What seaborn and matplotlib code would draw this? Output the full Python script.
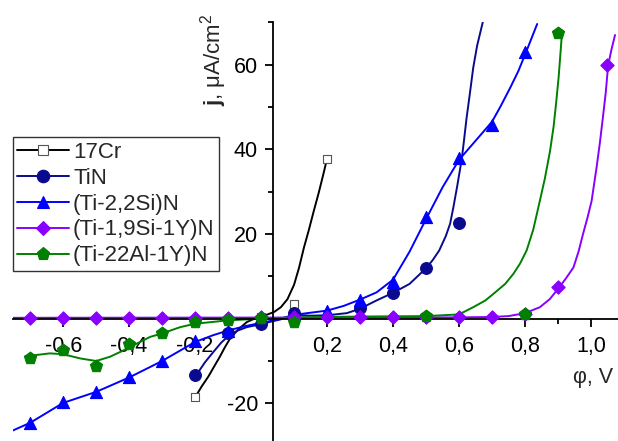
import matplotlib
matplotlib.use("Agg")
import matplotlib.pyplot as plt
from matplotlib.lines import Line2D
from matplotlib.ticker import FixedLocator, FixedFormatter
import seaborn as sns

# ---- measured points -------------------------------------------------------
cr_x = [-0.2, 0.0, 0.1, 0.2]
cr_y = [-18.6, 0.4, 3.4, 37.8]

tin_x = [-0.2, -0.1, 0.0, 0.1, 0.3, 0.4, 0.5, 0.6]
tin_y = [-13.3, -3.5, -1.3, 1.3, 2.4, 6.1, 11.9, 22.6]

si_x = [-0.7, -0.6, -0.5, -0.4, -0.3, -0.2, -0.1, 0.2, 0.3, 0.4, 0.5, 0.6, 0.7, 0.8]
si_y = [-24.6, -19.6, -17.3, -13.9, -10.0, -5.3, -3.0, 1.9, 4.5, 8.6, 23.9, 38.0, 45.7, 62.9]

siy_x = [-0.7, -0.6, -0.5, -0.4, -0.3, -0.2, -0.1, 0.0, 0.1, 0.2, 0.3, 0.4, 0.5, 0.6, 0.7, 0.8, 0.9, 1.05]
siy_y = [0.2, 0.2, 0.2, 0.2, 0.2, 0.2, 0.2, 0.3, 0.3, 0.3, 0.3, 0.3, 0.3, 0.3, 0.3, 1.2, 7.4, 59.8]

al_x = [-0.7, -0.6, -0.5, -0.4, -0.3, -0.2, -0.1, 0.0, 0.1, 0.5, 0.8, 0.9]
al_y = [-9.4, -7.3, -11.2, -5.9, -3.5, -0.8, -0.25, 0.15, -0.8, 0.6, 1.2, 67.4]

# ---- smoothed polarisation curves ------------------------------------------
cr_fit_x = [-0.2, -0.18, -0.16, -0.14, -0.125, -0.11, -0.094, -0.07, -0.043, -0.02, 0.0,
            0.02, 0.04, 0.06, 0.08, 0.1, 0.115, 0.13, 0.145, 0.16, 0.175, 0.19, 0.2]
cr_fit_y = [-18.6, -16.0, -13.7, -11.0, -9.0, -6.8, -4.7, -2.6, -0.8, 0.0, 0.5,
            1.0, 1.6, 2.7, 4.6, 8.0, 12.0, 16.8, 21.0, 25.5, 29.8, 34.5, 37.8]

tin_fit_x = [-0.2, -0.19, -0.17, -0.145, -0.12, -0.096, -0.07, -0.043, 0.0, 0.03, 0.058,
             0.08, 0.1, 0.15, 0.2, 0.26, 0.30, 0.35, 0.40, 0.45, 0.50, 0.52, 0.54, 0.56,
             0.573, 0.583, 0.595, 0.608, 0.615, 0.623, 0.633, 0.643, 0.655, 0.672]
tin_fit_y = [-13.3, -12.6, -10.3, -7.9, -5.6, -3.9, -2.8, -2.0, -1.3, -0.7, -0.2,
             0.4, 0.9, 0.7, 0.8, 1.3, 2.35, 4.3, 6.1, 8.2, 11.9, 13.8, 16.1, 19.5,
             22.4, 26.3, 31.5, 37.5, 42.0, 47.4, 53.2, 59.2, 64.5, 70.0]

si_fit_x = [-0.752, -0.7, -0.6, -0.5, -0.4, -0.3, -0.2, -0.145, -0.1, -0.05, 0.0, 0.05, 0.1,
            0.2, 0.25, 0.3, 0.35, 0.4, 0.45, 0.5, 0.55, 0.6, 0.65, 0.7, 0.725, 0.755, 0.78,
            0.803, 0.837]
si_fit_y = [-26.4, -24.6, -19.9, -17.3, -13.9, -10.0, -5.5, -3.9, -2.8, -1.8, -1.0, -0.2, 0.9,
            1.9, 3.0, 4.5, 6.2, 9.2, 15.8, 23.5, 31.0, 37.5, 42.0, 46.5, 50.0, 54.5, 58.5,
            62.9, 69.6]

siy_fit_x = [-0.752, 0.6, 0.7, 0.75, 0.8, 0.845, 0.875, 0.904, 0.925, 0.947, 0.963, 0.976,
             0.99, 1.002, 1.017, 1.027, 1.036, 1.045, 1.052, 1.062, 1.073]
siy_fit_y = [0.2, 0.3, 0.4, 0.6, 1.3, 2.7, 4.6, 7.4, 9.6, 12.1, 16.0, 20.0,
             24.0, 27.8, 35.7, 41.5, 47.4, 53.5, 59.8, 63.5, 67.0]

al_fit_x = [-0.715, -0.64, -0.6, -0.548, -0.5, -0.458, -0.417, -0.377, -0.336, -0.3, -0.245,
            -0.2, -0.1, 0.0, 0.1, 0.3, 0.5, 0.6, 0.643, 0.68, 0.705, 0.74, 0.765, 0.785,
            0.805, 0.825, 0.845, 0.86, 0.876, 0.887, 0.895, 0.902, 0.908, 0.912]
al_fit_y = [-8.9, -8.2, -8.4, -9.4, -10.0, -9.0, -7.5, -5.9, -4.3, -3.5, -2.0,
            -1.2, -0.4, 0.0, 0.3, 0.5, 0.6, 1.0, 2.7, 4.3, 5.9, 8.2, 10.6, 13.0,
            16.1, 21.0, 27.8, 33.0, 39.6, 45.5, 51.4, 57.0, 63.1, 67.4]

labels = ["17Cr", "TiN", "(Ti-2,2Si)N", "(Ti-1,9Si-1Y)N", "(Ti-22Al-1Y)N"]

x_major = [-0.6, -0.4, -0.2, 0.2, 0.4, 0.6, 0.8, 1.0]
x_major_labels = ["-0,6", "-0,4", "-0,2", "0,2", "0,4", "0,6", "0,8", "1,0"]
x_minor = [-0.7, -0.5, -0.3, -0.1, 0.1, 0.3, 0.5, 0.7, 0.9]
y_major = [-20, 20, 40, 60]
y_major_labels = ["-20", "20", "40", "60"]
y_minor = [-10, 10, 30, 50, 70]

# ---- style -----------------------------------------------------------------
sns.set_theme(style="ticks")
plt.rcParams["font.family"] = ["Liberation Sans", "DejaVu Sans"]
plt.rcParams["mathtext.fontset"] = "custom"
plt.rcParams["mathtext.rm"] = "Liberation Sans"
plt.rcParams["mathtext.it"] = "Liberation Sans:italic"
plt.rcParams["mathtext.bf"] = "Liberation Sans:bold"

W, H = 618, 441
fig = plt.figure(figsize=(W / 100, H / 100), dpi=100)
fig.patch.set_facecolor("white")
ax_left_px, ax_top_px = 13, 22.3
ax = fig.add_axes([ax_left_px / W, 0, 1 - ax_left_px / W, 1 - ax_top_px / H])
ax.set_facecolor("white")

series = [
    dict(px=cr_x, py=cr_y, fx=cr_fit_x, fy=cr_fit_y, color="black", marker="s",
         face="white", edge="#555555", s=36, ms=6.5),
    dict(px=tin_x, py=tin_y, fx=tin_fit_x, fy=tin_fit_y, color="#0a0a8e", marker="o",
         face="#0a0a8e", edge="#0a0a8e", s=72, ms=9),
    dict(px=si_x, py=si_y, fx=si_fit_x, fy=si_fit_y, color="#0000ff", marker="^",
         face="#0000ff", edge="#0000ff", s=76, ms=9),
    dict(px=siy_x, py=siy_y, fx=siy_fit_x, fy=siy_fit_y, color="#8a00ff", marker="D",
         face="#8a00ff", edge="#8a00ff", s=46, ms=7),
    dict(px=al_x, py=al_y, fx=al_fit_x, fy=al_fit_y, color="#008000", marker="p",
         face="#008000", edge="#008000", s=84, ms=9.5),
]

for sd in series:
    sns.lineplot(x=sd["fx"], y=sd["fy"], ax=ax, color=sd["color"], lw=1.4,
                 sort=False, estimator=None, legend=False)
for sd in series:
    sns.scatterplot(x=sd["px"], y=sd["py"], ax=ax, marker=sd["marker"], s=sd["s"],
                    color=sd["face"], edgecolor=sd["edge"], linewidth=0.8,
                    legend=False, zorder=3)

ax.set_xlim(-0.752, 1.082)
ax.set_ylim(-28.9, 70)

# axes crossing near the origin
ax.spines["left"].set_position(("data", 0.035))
ax.spines["bottom"].set_position(("data", 0))
ax.spines["top"].set_visible(False)
ax.spines["right"].set_visible(False)
for sp in ("left", "bottom"):
    ax.spines[sp].set_linewidth(1.3)
    ax.spines[sp].set_color("black")
    ax.spines[sp].set_zorder(2.5)

ax.xaxis.set_major_locator(FixedLocator(x_major))
ax.xaxis.set_major_formatter(FixedFormatter(x_major_labels))
ax.xaxis.set_minor_locator(FixedLocator(x_minor))
ax.yaxis.set_major_locator(FixedLocator(y_major))
ax.yaxis.set_major_formatter(FixedFormatter(y_major_labels))
ax.yaxis.set_minor_locator(FixedLocator(y_minor))
ax.tick_params(which="major", direction="out", length=6, width=1.3, colors="black",
               labelsize=15.5, pad=4.5)
ax.tick_params(axis="x", which="major", pad=6.5)
ax.tick_params(which="minor", direction="out", length=3.5, width=1.3, colors="black")

ax.set_xlabel("")
ax.set_ylabel("")
fig.text(593 / W, 1 - 378 / H, "φ, V", fontsize=15.5, ha="center", va="center")
fig.text(214 / W, 1 - 60 / H, r"$\mathbf{j}$, μA/cm$^2$", fontsize=16, rotation=90,
         ha="center", va="center")

handles = [Line2D([0], [0], color=sd["color"], lw=1.4, marker=sd["marker"],
                  markersize=sd["ms"], markerfacecolor=sd["face"],
                  markeredgecolor=sd["edge"], markeredgewidth=0.8)
           for sd in series]
leg = ax.legend(handles, labels, loc="upper left",
                bbox_to_anchor=(13 / W, 1 - 137.3 / H), bbox_transform=fig.transFigure,
                borderaxespad=0, fontsize=16, frameon=True, fancybox=False,
                edgecolor="#333333", framealpha=1, handlelength=2.3,
                handletextpad=0.2, labelspacing=0.22, borderpad=0.2)
leg.get_frame().set_linewidth(1.0)
leg.set_zorder(5)

fig.savefig("out.png", dpi=100, facecolor="white")
